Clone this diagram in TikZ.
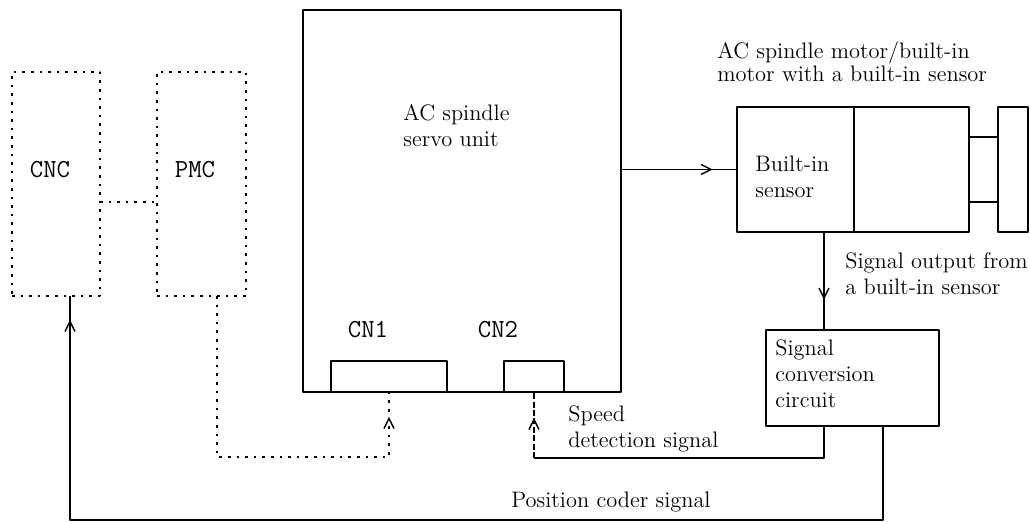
\documentclass[tikz,border=0pt]{standalone}
\usetikzlibrary{arrows.meta,decorations.markings}

\begin{document}
\begin{tikzpicture}[x=0.5pt,y=-0.5pt,line join=bevel,
    box/.style={draw,line width=0.9pt,inner sep=0pt,outer sep=0pt},
    dotbox/.style={draw,line width=1pt,dash pattern=on 1.3pt off 3pt,inner sep=0pt,outer sep=0pt},
    dotline/.style={line width=1pt,dash pattern=on 1.3pt off 3pt},
    dashline/.style={line width=0.6pt,dash pattern=on 3pt off 1.2pt},
    wire/.style={line width=0.7pt},
    txt/.style={inner sep=0pt,align=left,font=\fontsize{11.2}{13}\selectfont},
    mono/.style={inner sep=0pt,font=\fontsize{13}{15}\selectfont\ttfamily},
    tipat/.style={postaction={decorate},decoration={markings,
        mark=at position #1 with {\arrow[line width=0.7pt]{Straight Barb[length=5pt,width=5pt]}}}}]
    \useasboundingbox (0,0) rectangle (1030,522);

    \coordinate (lnk) at (0,202);
    \coordinate (cn1in) at (217,457);
    \coordinate (spd) at (824,458);
    \coordinate (pcb) at (883,520);
    \coordinate (pcl) at (70,520);
    \coordinate (sh1) at (0,137);
    \coordinate (sh2) at (0,202);

    \node[dotbox,minimum width=44pt,minimum height=112pt] (cnc) at (56,184) {};
    \node[dotbox,minimum width=44.5pt,minimum height=112pt] (pmc) at (201.5,184) {};
    \node[mono] (cnctxt) at (50,170) {CNC};
    \node[mono] (pmctxt) at (195,170) {PMC};

    \node[box,minimum width=159pt,minimum height=191pt] (servo) at (462,201) {};
    \node[txt,anchor=west] (servotxt) at (403,126) {AC spindle\\servo unit};
    \node[box,minimum width=58pt,minimum height=15.5pt] (cn1) at (389,376.5) {};
    \node[box,minimum width=30pt,minimum height=15.5pt] (cn2) at (534,376.5) {};
    \node[mono] (cn1txt) at (368,330) {CN1};
    \node[mono] (cn2txt) at (498,330) {CN2};

    \node[txt,anchor=west,font=\fontsize{11.2}{11.5}\selectfont] (mottxt) at (717,62)
        {AC spindle motor/built-in\\motor with a built-in sensor};
    \node[box,minimum width=58.5pt,minimum height=62.5pt] (sensor) at (795.5,169.5) {};
    \node[box,minimum width=57.5pt,minimum height=62.5pt,anchor=west] (motor) at (sensor.east) {};
    \node[box,minimum width=15pt,minimum height=62.5pt] (load) at (1013,169.5) {};
    \node[txt,anchor=west] (sensortxt) at (755,177) {Built-in\\sensor};

    \node[box,minimum width=86.5pt,minimum height=48pt] (conv) at (852.5,378) {};
    \node[txt,anchor=west] (convtxt) at (775,374) {Signal\\conversion\\circuit};
    \node[txt,anchor=west] (outtxt) at (845,274) {Signal output from\\a built-in sensor};
    \node[txt,anchor=west] (spdtxt) at (568,429) {Speed\\detection signal};
    \node[txt,anchor=west] (pctxt) at (511,502) {Position coder signal};

    \draw[dotline] (cnc.east |- lnk) -- (pmc.west |- lnk);
    \draw[dotline,tipat=-12.5pt] (pmc.south -| cn1in) -- (cn1in) -| (cn1.south);
    \draw[wire,tipat=0.79] (servo.east |- sensor.west) -- (sensor.west);
    \draw[wire] (motor.east |- sh1) -- (load.west |- sh1);
    \draw[wire] (motor.east |- sh2) -- (load.west |- sh2);
    \draw[wire,tipat=0.69] (sensor.south -| spd) -- (conv.north -| spd);
    \draw[wire] (conv.south -| spd) -- (spd) -- (spd -| cn2.south);
    \draw[dashline,tipat=-13pt] (spd -| cn2.south) -- (cn2.south);
    \draw[wire,tipat=-12pt] (conv.south -| pcb) -- (pcb) -- (pcl) -- (pcl |- cnc.south);
\end{tikzpicture}
\end{document}
